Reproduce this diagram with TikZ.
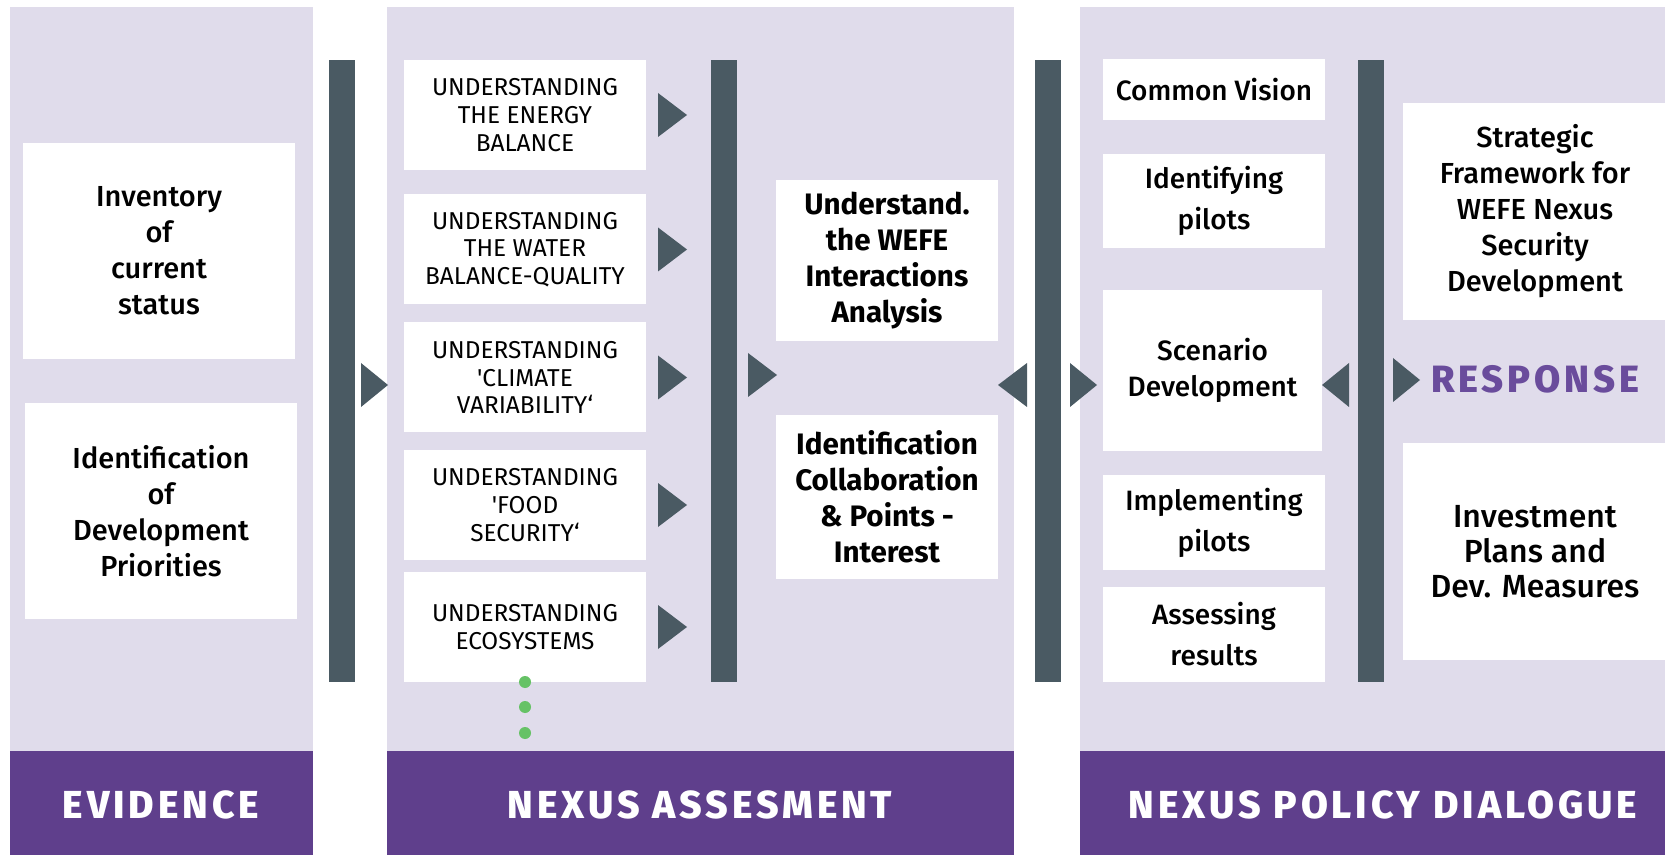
\documentclass[tikz,border=0pt]{standalone}
\usepackage{fontspec}
\setmainfont{Fira Sans}[UprightFont={* Medium}, BoldFont={* Bold}]
\newfontfamily\capsfont{Fira Sans}
\newfontfamily\headfont[LetterSpace=10, UprightFont={* Bold}, BoldFont={* ExtraBold}]{Fira Sans}
\definecolor{panelbg}{HTML}{E0DCEB}
\definecolor{bandpurple}{HTML}{5F3F8C}
\definecolor{barslate}{HTML}{4A5A63}
\definecolor{respurple}{HTML}{6A4C9C}
\definecolor{dotgreen}{HTML}{66C266}
\begin{document}
\begin{tikzpicture}[x=0.5pt,y=-0.5pt]
  \tikzstyle{panel}=[fill=panelbg]
  \tikzstyle{band}=[fill=bandpurple]
  \tikzstyle{bar}=[fill=barslate]
  \tikzstyle{card}=[fill=white, inner sep=0pt, align=center, text=black]
  \tikzstyle{headline}=[text=white, font=\headfont\bfseries\fontsize{19.5}{22}\selectfont]

  \useasboundingbox (0,0) rectangle (1665,855);

  % three columns
  \fill[panel] (10,7) rectangle (313,751);
  \fill[panel] (387,7) rectangle (1014,751);
  \fill[panel] (1080,7) rectangle (1665,751);
  \fill[band] (10,751) rectangle (313,855);
  \fill[band] (387,751) rectangle (1014,855);
  \fill[band] (1080,751) rectangle (1665,855);

  \path (161,805) node[headline] (evid) {EVIDENCE};
  \path (700,805) node[headline] (assess) {NEXUS ASSESMENT};
  \path (1383,805) node[headline] (dialog) {NEXUS POLICY DIALOGUE};

  % bars
  \foreach \x in {329, 711, 1035, 1358}
  {
    \fill[bar] (\x,60) rectangle (\x+26,682);
  }

  % evidence
  \path (159,251) node[card, minimum width=136pt, minimum height=108pt,
    font=\fontsize{14.5}{18}\selectfont] (inv) {Inventory\\of\\current\\status};
  \path (161,511) node[card, minimum width=136pt, minimum height=108pt,
    font=\fontsize{14.5}{18}\selectfont] (prio) {Identification\\of\\Development\\Priorities};
  \fill[bar] (361,363) -- (388,385) -- (361,407) -- cycle;

  % nexus assesment
  \foreach \i/\y/\txt in {1/115/{UNDERSTANDING\\THE ENERGY\\BALANCE},
      2/249.5/{UNDERSTANDING\\THE WATER\\BALANCE-QUALITY},
      3/377.5/{UNDERSTANDING\\\textquotesingle CLIMATE\\VARIABILITY‘},
      4/505/{UNDERSTANDING\\\textquotesingle FOOD\\SECURITY‘},
      5/627/{UNDERSTANDING\\ECOSYSTEMS}}
  {
    \path (525,\y) node[card, minimum width=121pt, minimum height=55pt,
      font=\capsfont\fontsize{12.2}{13.8}\selectfont] (u\i) {\txt};
    \fill[bar] (658,\y-22) -- (687,\y) -- (658,\y+22) -- cycle;
  }
  \foreach \y in {682, 707, 733}
  {
    \fill[dotgreen] (525,\y) circle (3pt);
  }
  \fill[bar] (748,353) -- (777,375) -- (748,397) -- cycle;

  \path (887,260.5) node[card, minimum width=111pt, minimum height=80.5pt,
    font=\bfseries\fontsize{14.8}{18}\selectfont] (wefe) {Understand.\\the WEFE\\Interactions\\Analysis};
  \path (887,497) node[card, minimum width=111pt, minimum height=82pt,
    font=\bfseries\fontsize{14.8}{18}\selectfont] (collab) {Identification\\Collaboration\\\& Points -\\Interest};
  \fill[bar] (1027,363) -- (998,385) -- (1027,407) -- cycle;
  \fill[bar] (1070,363) -- (1097,385) -- (1070,407) -- cycle;

  % nexus policy dialogue
  \path (1214,89.5) node[card, minimum width=111pt, minimum height=30.5pt,
    font=\fontsize{14}{20.5}\selectfont] (vision) {Common Vision};
  \path (1214,201) node[card, minimum width=111pt, minimum height=47pt,
    font=\fontsize{14}{20.5}\selectfont] (ident) {Identifying\\pilots};
  \path (1212.5,370.5) node[card, minimum width=109.5pt, minimum height=80.5pt,
    font=\fontsize{14}{18}\selectfont] (scen) {Scenario\\Development};
  \path (1214,522.5) node[card, minimum width=111pt, minimum height=47.5pt,
    font=\fontsize{14}{20.5}\selectfont] (impl) {Implementing\\pilots};
  \path (1214,634.5) node[card, minimum width=111pt, minimum height=47.5pt,
    font=\fontsize{14}{20.5}\selectfont] (asses) {Assessing\\results};
  \fill[bar] (1349,363) -- (1322,385) -- (1349,407) -- cycle;
  \fill[bar] (1393,358) -- (1420,380) -- (1393,402) -- cycle;

  \path (1535,211.5) node[card, minimum width=132.5pt, minimum height=108.5pt,
    font=\fontsize{14.5}{18}\selectfont] (strat) {Strategic\\Framework for\\WEFE Nexus\\Security\\Development};
  \path (1535,379) node[text=respurple,
    font=\headfont\bfseries\fontsize{19}{20}\selectfont] (resp) {RESPONSE};
  \path (1535,551.5) node[card, minimum width=132.5pt, minimum height=108.5pt,
    font=\fontsize{16}{17.5}\selectfont] (invest) {Investment\\Plans and\\Dev. Measures};
\end{tikzpicture}
\end{document}
